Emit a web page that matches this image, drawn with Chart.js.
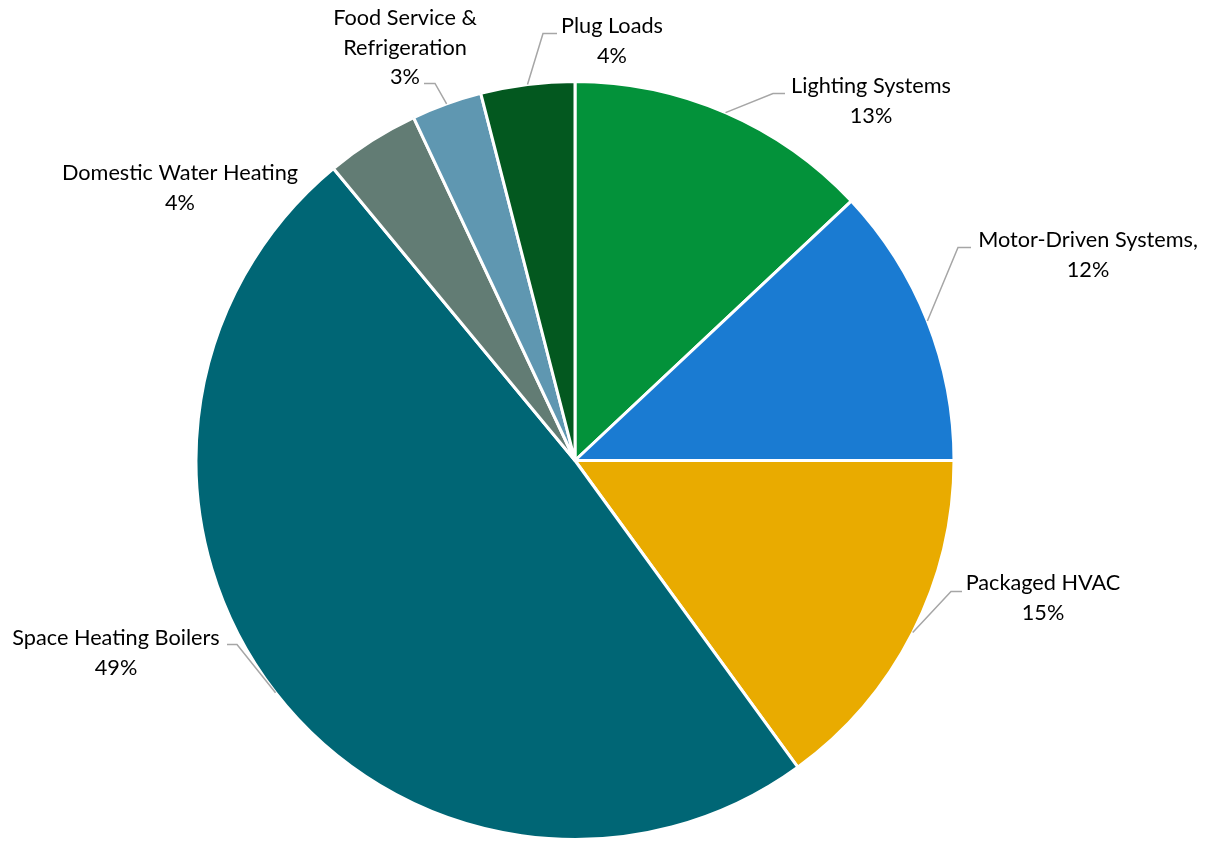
<!DOCTYPE html>
<html>
<head>
<meta charset="utf-8">
<script src="https://cdn.jsdelivr.net/npm/chart.js@4/dist/chart.umd.min.js"></script>
<style>
  html, body { margin: 0; padding: 0; background: #ffffff; }
  canvas { display: block; }
</style>
</head>
<body>
<canvas id="pie" width="1217" height="841"></canvas>
<script>
// Energy use by end use, percent share
const categories = [
  'Lighting Systems',
  'Motor-Driven Systems,',
  'Packaged HVAC',
  'Space Heating Boilers',
  'Domestic Water Heating',
  'Food Service & Refrigeration',
  'Plug Loads'
];
const shares = [13, 12, 15, 49, 4, 3, 4];

// Text lines shown beside each slice (name may wrap)
const labelLines = [
  ['Lighting Systems'],
  ['Motor-Driven Systems,'],
  ['Packaged HVAC'],
  ['Space Heating Boilers'],
  ['Domestic Water Heating'],
  ['Food Service &', 'Refrigeration'],
  ['Plug Loads']
];

const sliceColors = ['#03923A', '#1A7BD2', '#E9AB00', '#006675', '#627C74', '#5F97B1', '#03581F'];

// Label placement relative to the pie centre: text block (first line centre),
// leader-line elbow and leader-line end. null leader = no connector.
const labelLayout = [
  { text: [296, -374], elbow: [198, -367], end: [210, -367] },
  { text: [513, -220], elbow: [383, -213], end: [396, -213] },
  { text: [468, 123],  elbow: [376, 131],  end: [387, 131] },
  { text: [-459, 178], elbow: [-338, 184], end: [-348, 184] },
  { text: [-395, -287], elbow: null, end: null },
  { text: [-170, -442], elbow: [-140, -377], end: [-151, -377] },
  { text: [37, -434],  elbow: [-32, -427], end: [-18, -427] }
];

const FONT = '21.7px "Lato", "Liberation Sans", sans-serif';
const LINE_H = 29.5;

const outsideLabels = {
  id: 'outsideLabels',
  afterDatasetsDraw(chart) {
    const ctx = chart.ctx;
    const meta = chart.getDatasetMeta(0);
    const values = chart.data.datasets[0].data;
    ctx.save();
    meta.data.forEach((arc, i) => {
      const p = arc.getProps(['x', 'y', 'startAngle', 'endAngle', 'outerRadius'], true);
      const cx = p.x, cy = p.y;
      const lay = labelLayout[i];
      if (lay.elbow) {
        const mid = (p.startAngle + p.endAngle) / 2;
        const sx = cx + Math.cos(mid) * p.outerRadius;
        const sy = cy + Math.sin(mid) * p.outerRadius;
        ctx.beginPath();
        ctx.moveTo(sx, sy);
        ctx.lineTo(cx + lay.elbow[0], cy + lay.elbow[1]);
        ctx.lineTo(cx + lay.end[0], cy + lay.end[1]);
        ctx.strokeStyle = '#A6A6A6';
        ctx.lineWidth = 1.5;
        ctx.stroke();
      }
      const lines = labelLines[i].concat([values[i] + '%']);
      ctx.font = FONT;
      ctx.fillStyle = '#000000';
      ctx.textAlign = 'center';
      ctx.textBaseline = 'middle';
      lines.forEach((t, k) => {
        ctx.fillText(t, cx + lay.text[0], cy + lay.text[1] + k * LINE_H);
      });
    });
    ctx.restore();
  }
};

new Chart(document.getElementById('pie'), {
  type: 'pie',
  data: {
    labels: categories,
    datasets: [{
      data: shares,
      backgroundColor: sliceColors,
      borderColor: '#ffffff',
      borderWidth: 3
    }]
  },
  options: {
    responsive: false,
    animation: false,
    radius: 379,
    layout: { padding: { top: 80, bottom: 0, left: 0, right: 67 } },
    plugins: {
      legend: { display: false },
      tooltip: { enabled: false }
    }
  },
  plugins: [outsideLabels]
});
</script>
</body>
</html>
